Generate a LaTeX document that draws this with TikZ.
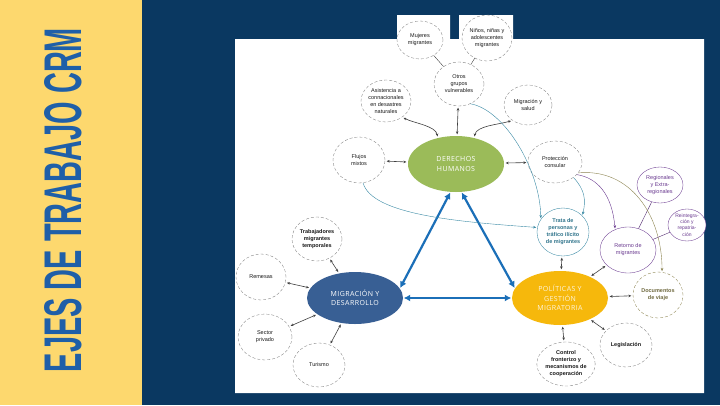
\documentclass[tikz,border=0pt]{standalone}
\usepackage{fontspec}
\usepackage{graphicx}
\setmainfont{Liberation Sans}
\newfontfamily\hubfont[LetterSpace=6]{Open Sans}
\usetikzlibrary{shapes.geometric,arrows.meta}
\definecolor{navy}{HTML}{0A3861}
\definecolor{sand}{HTML}{FDD86E}
\definecolor{titleblue}{HTML}{1F5FA8}
\definecolor{dhgreen}{HTML}{9BBB59}
\definecolor{mydblue}{HTML}{385F94}
\definecolor{pgmgold}{HTML}{F6B80C}
\definecolor{axisblue}{HTML}{1B6FB8}
\definecolor{tealc}{HTML}{3A8AA5}
\definecolor{purp}{HTML}{6A3A90}
\definecolor{olv}{HTML}{8C8450}
\begin{document}
\begin{tikzpicture}[x=1pt,y=-1pt,font=\fontsize{5.5}{7}\selectfont,
  sat/.style={ellipse,draw=gray,densely dashed,line width=0.35pt,fill=white,align=center,inner sep=0pt,text=black!90},
  bsat/.style={sat,font=\fontsize{5.5}{7}\selectfont\bfseries},
  hub/.style={ellipse,inner sep=0pt,align=center,minimum width=96pt,font=\hubfont\fontsize{7}{9.5}\selectfont},
  garr/.style={{Stealth[length=3pt,width=2.6pt]}-{Stealth[length=3pt,width=2.6pt]},black!75,semithick,shorten <=1.5pt,shorten >=1.5pt},
  barr/.style={{Latex[length=6.5pt,width=7pt]}-{Latex[length=6.5pt,width=7pt]},axisblue,line width=2.2pt,shorten <=0.5pt,shorten >=0.5pt},
  curv/.style={-{Stealth[length=3.2pt,width=2.6pt]},thin,shorten >=1pt}]
\useasboundingbox (0,0) rectangle (720,405);
\fill[navy] (0,0) rectangle (720,405);
\fill[sand] (0,0) rectangle (142,405);
\fill[white] (235,39) rectangle (704,393) (397,15) rectangle (450,39) (459,15) rectangle (513,39);
\node[rotate=90,text=titleblue,inner sep=0pt] (title) at (63.5,200) {\resizebox{344pt}{37pt}{\bfseries EJES DE TRABAJO CRM}};
\node[hub,fill=dhgreen,minimum height=56pt,text=white] (dh) at (456,164) {DERECHOS\\HUMANOS};
\node[hub,fill=mydblue,minimum height=52pt,text=white] (myd) at (355,298) {MIGRACIÓN Y\\DESARROLLO};
\node[hub,fill=pgmgold,minimum height=54pt,text=pgmgold!15!white] (pgm) at (560,298) {POLÍTICAS Y\\GESTIÓN\\MIGRATORIA};
\foreach \n/\x/\y/\w/\h/\t in {muj/420/40/46/38/{Mujeres\\migrantes},
  nna/487/38/50/46/{Niños, niñas y\\adolescentes\\migrantes},
  otr/459/84/50/44/{Otros\\grupos\\vulnerables},
  asi/386/101/50/42/{Asistencia a\\connacionales\\en desastres\\naturales},
  mys/528/105/48/40/{Migración y\\salud},
  flu/359/160/52/46/{Flujos\\mixtos},
  pro/555/162/54/42/{Protección\\consular},
  rem/261/277/50/46/{Remesas},
  sec/265/337/54/46/{Sector\\privado},
  tur/319/365/52/44/{Turismo}}
  \node[sat,minimum width=\w pt,minimum height=\h pt] (\n) at (\x,\y) {\t};
\foreach \n/\x/\y/\w/\h/\t in {trab/317/239/50/44/{Trabajadores\\migrantes\\temporales},
  leg/626/345/52/44/{Legislación},
  con/566/364/56/44/{Control\\fronterizo y\\mecanismos de\\cooperación}}
  \node[bsat,minimum width=\w pt,minimum height=\h pt] (\n) at (\x,\y) {\t};
\node[bsat,draw=olv,text=olv!80!black,minimum width=50pt,minimum height=46pt] (doc) at (658,295) {Documentos\\de viaje};
\node[bsat,draw=tealc,solid,text=tealc!85!black,minimum width=52pt,minimum height=48pt] (tra) at (563,232) {Trata de\\personas y\\tráfico ilícito\\de migrantes};
\node[sat,draw=purp,solid,text=purp,minimum width=46pt,minimum height=36pt] (reg) at (660,185) {Regionales\\y Extra-\\regionales};
\node[sat,draw=purp,solid,text=purp,font=\fontsize{5}{6.2}\selectfont,minimum width=38pt,minimum height=32pt] (rei) at (687,225) {Reintegra-\\ción y\\repatria-\\ción};
\node[sat,draw=purp,solid,text=purp,minimum width=56pt,minimum height=46pt] (ret) at (628,250) {Retorno de\\migrantes};
\draw[black!75,thin] (otr) -- (muj) (otr) -- (nna);
\draw[purp!80!black,thin] (ret) -- (reg) (ret) -- (rei);
\foreach \a/\b in {otr/dh,flu/dh,pro/dh,trab/myd,rem/myd,sec/myd,tur/myd,tra/pgm,ret/pgm,doc/pgm,leg/pgm,con/pgm}
  \draw[garr] (\a) -- (\b);
\draw[garr] (asi.-45) .. controls +(12,6) and +(-2,-12) .. (dh.125);
\draw[garr] (mys.225) .. controls +(-14,4) and +(2,-12) .. (dh.55);
\draw[barr] (myd.12) -- (dh.259);
\draw[barr] (pgm.168) -- (dh.281);
\draw[barr] (myd.east) -- (pgm.west);
\draw[curv,tealc] (flu.-80) .. controls (372,215) and (460,222) .. (tra.170);
\draw[curv,tealc] (otr.-60) .. controls (505,110) and (540,170) .. (tra.150);
\draw[curv,tealc] (pro.-40) .. controls (585,190) and (586,200) .. (tra.40);
\draw[curv,purp] (pro.-30) .. controls (598,178) and (612,195) .. (ret.122);
\draw[curv,olv] (pro.-25) .. controls (630,168) and (662,215) .. (doc.80);
\end{tikzpicture}
\end{document}
